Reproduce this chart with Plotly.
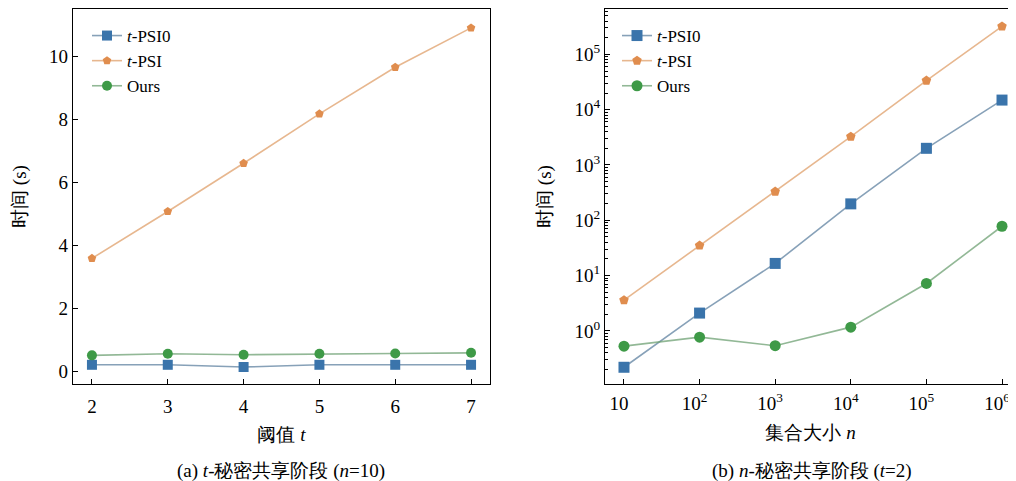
import numpy as np
import plotly.graph_objects as go

# ---- data ----
t_vals = [2, 3, 4, 5, 6, 7]
a_tpsi0 = [0.20, 0.20, 0.13, 0.20, 0.20, 0.20]
a_tpsi = [3.58, 5.07, 6.60, 8.17, 9.65, 10.90]
a_ours = [0.50, 0.55, 0.52, 0.55, 0.56, 0.58]

n_vals = [1e1, 1e2, 1e3, 1e4, 1e5, 1e6]
b_tpsi0 = [0.22, 2.1, 16.6, 198, 2000, 14900]
b_tpsi = [3.6, 35, 330, 3250, 33500, 320000]
b_ours = [0.53, 0.77, 0.54, 1.17, 7.2, 78]

series_names = ["<i>t</i>-PSI0", "<i>t</i>-PSI", "Ours"]
x_tick_vals_b = [1e1, 1e2, 1e3, 1e4, 1e5, 1e6]
x_tick_text_b = ["10", "10<sup>2</sup>", "10<sup>3</sup>", "10<sup>4</sup>", "10<sup>5</sup>", "10<sup>6</sup>"]
y_tick_vals_b = [1e0, 1e1, 1e2, 1e3, 1e4, 1e5]
y_tick_text_b = ["10<sup>0</sup>", "10<sup>1</sup>", "10<sup>2</sup>", "10<sup>3</sup>", "10<sup>4</sup>", "10<sup>5</sup>"]

# page has an 8px body margin: figure drawn at (8, 8)
OFF = 8
W, H = 1016 - OFF, 481 - OFF
FONT = "Liberation Serif"
FS = 19
LFS = 17

def px(x):
    return (x - OFF) / W

def py(y):
    return 1 - (y - OFF) / H

marker_cols = ["#3a74ab", "#e08d4e", "#3e9a47"]
line_cols = ["rgba(95,130,160,0.75)", "rgba(225,165,115,0.8)", "rgba(110,160,115,0.75)"]
symbols = ["square", "pentagon", "circle"]
msizes = [10, 9, 10]

fig = go.Figure()

for i, ys in enumerate([a_tpsi0, a_tpsi, a_ours]):
    fig.add_trace(go.Scatter(
        x=t_vals, y=ys, mode="lines+markers", name=series_names[i],
        line=dict(color=line_cols[i], width=1.6),
        marker=dict(color=marker_cols[i], symbol=symbols[i], size=msizes[i], line=dict(width=0)),
        xaxis="x", yaxis="y", legend="legend"))

for i, ys in enumerate([b_tpsi0, b_tpsi, b_ours]):
    fig.add_trace(go.Scatter(
        x=n_vals, y=ys, mode="lines+markers", name=series_names[i],
        line=dict(color=line_cols[i], width=1.6),
        marker=dict(color=marker_cols[i], symbol=symbols[i], size=msizes[i] + 1, line=dict(width=0)),
        xaxis="x2", yaxis="y2", legend="legend2"))

ydom = [py(384), py(9)]
axis_common = dict(showline=True, linecolor="black", linewidth=1.3, ticks="inside",
                   ticklen=5, tickwidth=1.1, tickcolor="black", showgrid=False, zeroline=False,
                   automargin=False, ticklabeloverflow="allow",
                   tickfont=dict(family=FONT, size=FS, color="black"))

minor_vals = [k * 10.0 ** e for e in range(-1, 6) for k in range(2, 10)]

fig.update_layout(
    width=W, height=H,
    margin=dict(l=0, r=0, t=0, b=0, autoexpand=False),
    paper_bgcolor="white", plot_bgcolor="white",
    font=dict(family=FONT, size=FS, color="black"),
    xaxis=dict(domain=[px(73), px(490)], range=[1.75, 7.25], dtick=1, mirror=True,
               ticklabelstandoff=5,
               title=dict(text="阈值 <i>t</i>", font=dict(family=FONT, size=FS), standoff=11),
               anchor="y", **axis_common),
    yaxis=dict(domain=ydom, range=[-0.41, 11.5], dtick=2, mirror=True,
               title=dict(text="时间 (s)", font=dict(family=FONT, size=FS), standoff=17),
               anchor="x", **axis_common),
    xaxis2=dict(domain=[px(605), 1.0], type="log", range=[0.749, 6.185], mirror=True,
                tickmode="array", tickvals=x_tick_vals_b, ticktext=x_tick_text_b,
                ticklabelstandoff=2, ticklabelshift=-5,
                title=dict(text="集合大小 <i>n</i>", font=dict(family=FONT, size=FS), standoff=12),
                anchor="y2", **axis_common),
    yaxis2=dict(domain=ydom, type="log", range=[-0.96, 5.82], mirror=False,
                tickmode="array", tickvals=y_tick_vals_b, ticktext=y_tick_text_b,
                minor=dict(tickmode="array", tickvals=minor_vals, ticks="inside", ticklen=3,
                           tickwidth=1, tickcolor="black", showgrid=False),
                title=dict(text="时间 (s)", font=dict(family=FONT, size=FS), standoff=17),
                anchor="x2", **axis_common),
    legend=dict(x=px(87), y=py(18), xanchor="left", yanchor="top", bgcolor="rgba(0,0,0,0)",
                font=dict(family=FONT, size=LFS), tracegroupgap=0),
    legend2=dict(x=px(617), y=py(18), xanchor="left", yanchor="top", bgcolor="rgba(0,0,0,0)",
                 font=dict(family=FONT, size=LFS), tracegroupgap=0),
    annotations=[
        dict(text="(a) <i>t</i>-秘密共享阶段 (<i>n</i>=10)", x=px(281), y=py(471),
             xref="paper", yref="paper", showarrow=False, xanchor="center", yanchor="middle",
             font=dict(family=FONT, size=FS)),
        dict(text="(b) <i>n</i>-秘密共享阶段 (<i>t</i>=2)", x=px(812), y=py(471),
             xref="paper", yref="paper", showarrow=False, xanchor="center", yanchor="middle",
             font=dict(family=FONT, size=FS)),
    ],
)

fig.write_html("out.html")
